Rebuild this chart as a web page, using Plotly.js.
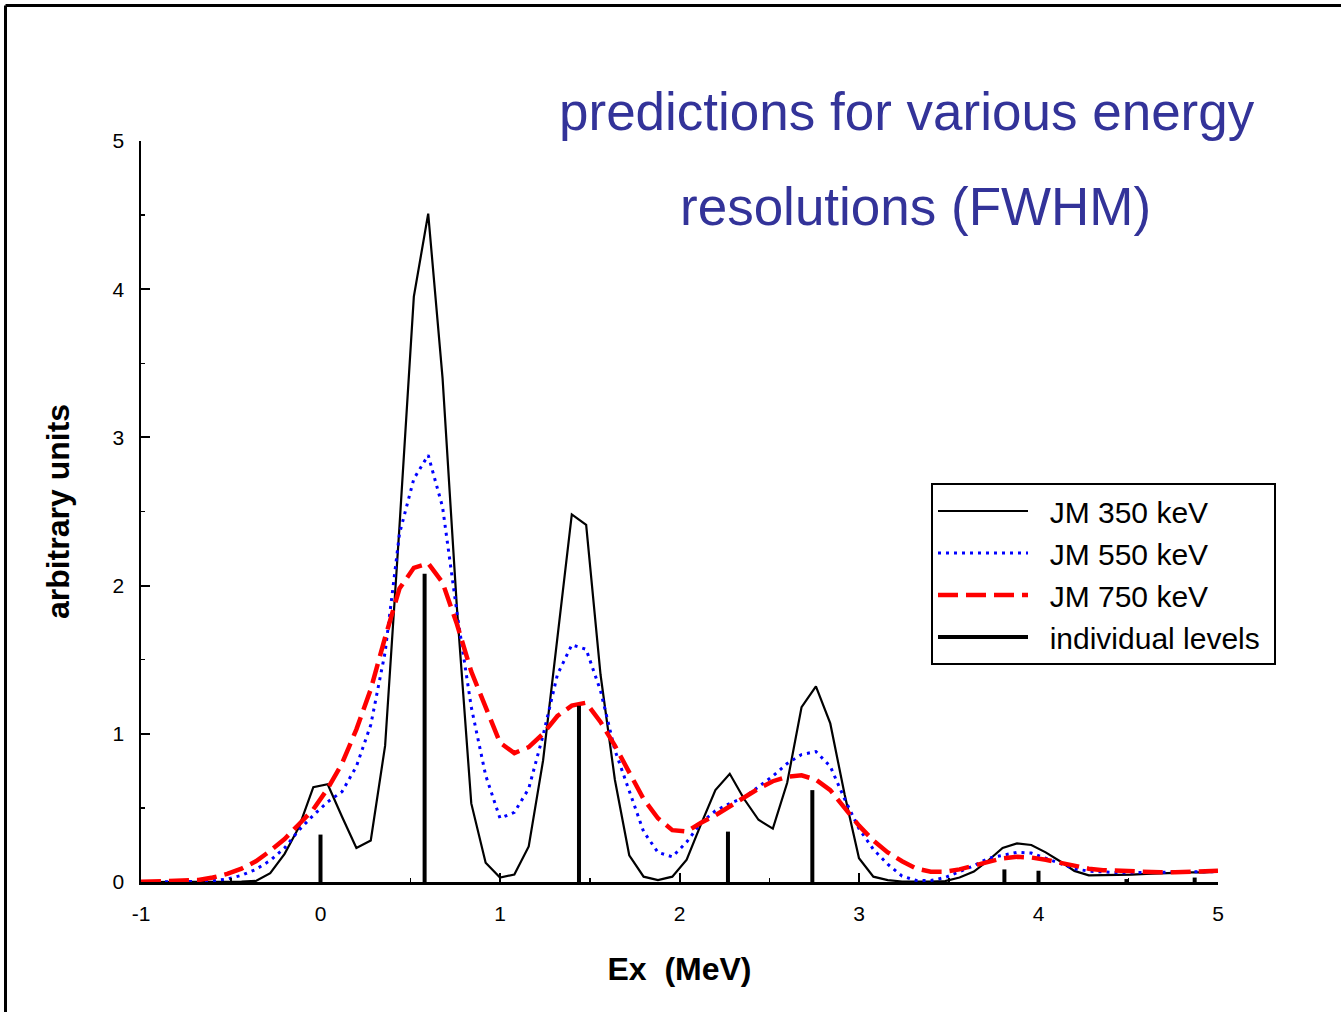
<!DOCTYPE html>
<html>
<head>
<meta charset="utf-8">
<script src="https://cdn.plot.ly/plotly-3.0.1.min.js"></script>
<style>
  html, body { margin: 0; padding: 0; background: #ffffff; }
  #chart { width: 1341px; height: 1012px; }
</style>
</head>
<body>
<div id="chart"></div>
<script>
// Excitation energy grid (MeV)
const xGrid = [-1.00,-0.92,-0.84,-0.76,-0.68,-0.60,-0.52,-0.44,-0.36,-0.28,
  -0.20,-0.12,-0.04,0.04,0.12,0.20,0.28,0.36,0.44,0.52,
  0.60,0.68,0.76,0.84,0.92,1.00,1.08,1.16,1.24,1.32,
  1.40,1.48,1.56,1.64,1.72,1.80,1.88,1.96,2.04,2.12,
  2.20,2.28,2.36,2.44,2.52,2.60,2.68,2.76,2.84,2.92,
  3.00,3.08,3.16,3.24,3.32,3.40,3.48,3.56,3.64,3.72,
  3.80,3.88,3.96,4.04,4.12,4.20,4.28,4.36,4.44,4.52,
  4.60,4.68,4.76,4.84,4.92,5.00];

// JM 350 keV
const jm350 = [0,0,0,0,0,0.001,0.002,0.003,0.007,0.06,
  0.19,0.37,0.64,0.66,0.44,0.23,0.28,0.92,2.40,3.95,
  4.51,3.40,1.85,0.53,0.13,0.03,0.05,0.24,0.82,1.66,
  2.48,2.41,1.40,0.69,0.18,0.036,0.013,0.036,0.15,0.39,
  0.62,0.73,0.56,0.42,0.36,0.67,1.18,1.32,1.07,0.59,
  0.16,0.036,0.013,0.003,0.002,0.003,0.006,0.03,0.07,0.145,
  0.23,0.26,0.25,0.20,0.14,0.075,0.045,0.045,0.05,0.05,
  0.055,0.06,0.065,0.065,0.065,0.07];

// JM 550 keV
const jm550 = [0,0,0,0.002,0.004,0.008,0.02,0.045,0.085,0.145,
  0.23,0.35,0.45,0.54,0.61,0.78,1.06,1.55,2.35,2.72,
  2.88,2.53,1.82,1.18,0.72,0.43,0.47,0.63,0.99,1.40,
  1.60,1.57,1.29,0.89,0.62,0.34,0.20,0.17,0.27,0.40,
  0.48,0.53,0.57,0.64,0.715,0.80,0.86,0.88,0.78,0.56,
  0.36,0.22,0.12,0.04,0.01,0.01,0.03,0.07,0.11,0.16,
  0.18,0.20,0.195,0.16,0.12,0.09,0.073,0.066,0.063,0.063,
  0.065,0.068,0.07,0.07,0.07,0.07];

// JM 750 keV
const jm750 = [0.002,0.003,0.005,0.008,0.013,0.03,0.055,0.09,0.14,0.21,
  0.29,0.39,0.49,0.63,0.80,1.03,1.30,1.65,1.98,2.12,
  2.15,2.02,1.74,1.42,1.17,0.94,0.87,0.91,1.00,1.12,
  1.19,1.21,1.08,0.92,0.74,0.56,0.43,0.35,0.34,0.40,
  0.45,0.51,0.57,0.63,0.68,0.71,0.72,0.69,0.62,0.50,
  0.38,0.28,0.20,0.14,0.09,0.07,0.07,0.085,0.11,0.14,
  0.16,0.17,0.165,0.15,0.13,0.11,0.09,0.08,0.075,0.07,
  0.065,0.065,0.065,0.068,0.072,0.076];

// Individual levels: energies (MeV) and strengths
const levelE = [0.00, 0.58, 1.44, 2.27, 2.74, 3.81, 4.00, 4.49, 4.87];
const levelH = [0.32, 2.08, 1.19, 0.34, 0.62, 0.085, 0.076, 0.02, 0.03];

// Tick labels
const xTickVals = [-1, 0, 1, 2, 3, 4, 5];
const xTickText = ['-1', '0', '1', '2', '3', '4', '5'];
const yTickVals = [0, 1, 2, 3, 4, 5];
const yTickText = ['0', '1', '2', '3', '4', '5'];

const seriesNames = ['JM 350 keV', 'JM 550 keV', 'JM 750 keV', 'individual levels'];
const titleLines = ['predictions for various energy', 'resolutions (FWHM)'];
const xTitle = 'Ex\u00a0 (MeV)';
const yTitle = 'arbitrary units';

// stick representation of the levels
const stickX = [], stickY = [];
levelE.forEach((e, i) => { stickX.push(e, e, null); stickY.push(0, levelH[i], null); });

const FONT = 'Liberation Sans, Arial, Helvetica, sans-serif';
const PAD = '\u00a0\u00a0';

const traces = [
  { x: xGrid, y: jm350, name: PAD + seriesNames[0], type: 'scatter', mode: 'lines',
    line: { color: '#000000', width: 2.2 } },
  { x: xGrid, y: jm550, name: PAD + seriesNames[1], type: 'scatter', mode: 'lines',
    line: { color: '#0000ff', width: 3, dash: '3px,5px' } },
  { x: xGrid, y: jm750, name: PAD + seriesNames[2], type: 'scatter', mode: 'lines',
    line: { color: '#ff0000', width: 4.5, dash: '20px,8px' } },
  { x: stickX, y: stickY, name: PAD + seriesNames[3] + '\u00a0', type: 'scatter', mode: 'lines',
    line: { color: '#000000', width: 4 } }
];

// paper-coordinate helpers (plot area: x 141..1218, y 141..882 px)
const px2x = p => (p - 141) / 1077;
const px2y = p => (882 - p) / 741;

const layout = {
  width: 1341, height: 1012,
  margin: { l: 141, r: 123, t: 141, b: 130 },
  paper_bgcolor: '#ffffff', plot_bgcolor: '#ffffff',
  font: { family: FONT, color: '#000000' },
  showlegend: true,
  legend: {
    x: px2x(931), y: px2y(483), xanchor: 'left', yanchor: 'top',
    bgcolor: '#ffffff', bordercolor: '#000000', borderwidth: 2,
    font: { family: FONT, size: 30, color: '#000000' },
    itemwidth: 90, tracegroupgap: 0
  },
  xaxis: {
    range: [-1, 5], tickmode: 'array', tickvals: xTickVals, ticktext: xTickText,
    showgrid: false, zeroline: false,
    showline: true, linecolor: '#000000', linewidth: 2.5,
    ticks: 'inside', ticklen: 9, tickwidth: 2, tickcolor: '#000000',
    minor: { dtick: 0.5, tick0: 0, ticks: 'inside', ticklen: 4, tickwidth: 1.5, tickcolor: '#000000', showgrid: false },
    tickfont: { family: FONT, size: 21, color: '#000000' },
    ticklabelstandoff: 11,
    title: { text: '<b>' + xTitle + '</b>', font: { family: FONT, size: 32, color: '#000000' }, standoff: 34 }
  },
  yaxis: {
    range: [0, 5], tickmode: 'array', tickvals: yTickVals, ticktext: yTickText,
    showgrid: false, zeroline: false,
    showline: true, linecolor: '#000000', linewidth: 2.5,
    ticks: 'inside', ticklen: 9, tickwidth: 2, tickcolor: '#000000',
    minor: { dtick: 0.5, tick0: 0, ticks: 'inside', ticklen: 4, tickwidth: 1.5, tickcolor: '#000000', showgrid: false },
    tickfont: { family: FONT, size: 21, color: '#000000' },
    ticklabelstandoff: 10,
    title: { text: '<b>' + yTitle + '</b>', font: { family: FONT, size: 32, color: '#000000' }, standoff: 34 }
  },
  annotations: [
    { xref: 'paper', yref: 'paper', x: px2x(907), y: px2y(111), xanchor: 'center', yanchor: 'middle',
      text: titleLines[0], showarrow: false, font: { family: FONT, size: 53, color: '#333399' } },
    { xref: 'paper', yref: 'paper', x: px2x(915), y: px2y(207), xanchor: 'center', yanchor: 'middle',
      text: titleLines[1], showarrow: false, font: { family: FONT, size: 53, color: '#333399' } }
  ],
  shapes: [
    { type: 'line', xref: 'paper', yref: 'paper', x0: px2x(5.5), x1: px2x(1345), y0: px2y(5.5), y1: px2y(5.5),
      line: { color: '#000000', width: 3 } },
    { type: 'line', xref: 'paper', yref: 'paper', x0: px2x(5.5), x1: px2x(5.5), y0: px2y(5.5), y1: px2y(1020),
      line: { color: '#000000', width: 3 } }
  ]
};

Plotly.newPlot('chart', traces, layout, { staticPlot: true, displayModeBar: false });
</script>
</body>
</html>
